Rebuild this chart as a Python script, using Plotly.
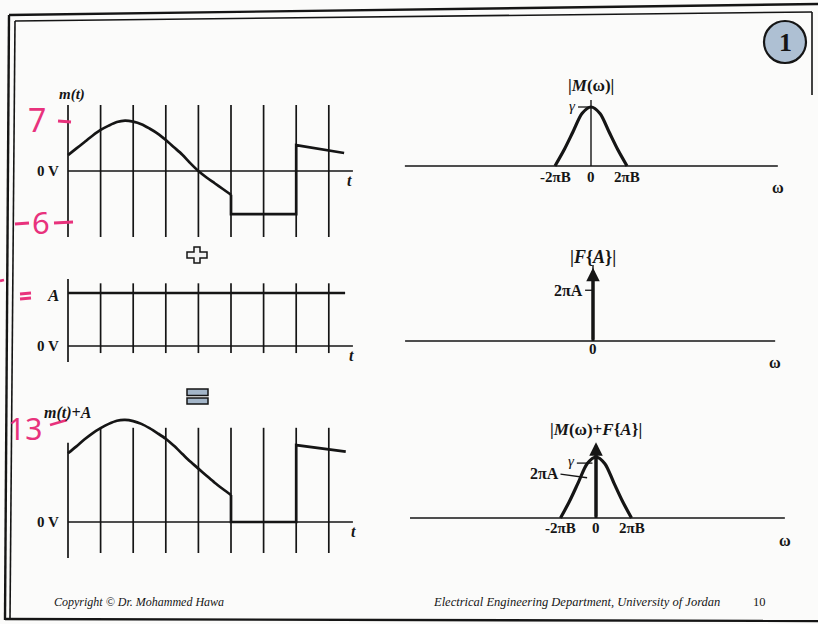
import plotly.graph_objects as go

W, H = 818, 624
INK = "#151515"
PINK = "#e8327c"
SERIF = "Liberation Serif"

# ---------------- data ----------------
# time axis: grid divisions
GRID_T = [0, 1, 2, 3, 4, 5, 6, 7, 8]
T_AXIS_END = 8.74

# message m(t): smooth part up to index M_SMOOTH_END, then straight pieces
M_T = [0, 0.25, 0.5, 0.75, 1.0, 1.25, 1.5, 1.75, 2.0, 2.25, 2.5, 2.75, 3.0, 3.25,
       3.5, 3.75, 4.0, 4.25, 4.5, 4.75, 5.0, 5.0, 7.0, 7.0, 8.47]
M_V = [2.2, 3.1, 4.0, 4.9, 5.7, 6.3, 6.8, 7.0, 6.85, 6.5, 5.9, 5.2, 4.3, 3.3,
       2.3, 1.1, 0.0, -0.9, -1.7, -2.5, -3.3, -6.0, -6.0, 3.6, 2.5]
M_SMOOTH_END = 20

# DC level A
A_LEVEL = 6.0
A_T = [0, 8.5]

# m(t) + A
MA_T = [0, 0.25, 0.5, 0.75, 1.0, 1.25, 1.5, 1.75, 2.0, 2.25, 2.5, 2.75, 3.0, 3.25,
        3.5, 3.75, 4.0, 4.25, 4.5, 4.75, 5.0, 5.0, 7.0, 7.0, 8.52]
MA_V = [8.75, 9.6, 10.5, 11.3, 11.95, 12.5, 12.9, 13.0, 12.85, 12.5, 11.95, 11.3, 10.6, 9.7,
        8.7, 7.7, 6.8, 5.9, 5.0, 4.2, 3.44, 0.0, 0.0, 9.8, 8.96]
MA_SMOOTH_END = 20

# spectrum |M(w)|, w in units of 2*pi*B, magnitude in units of gamma
W_PTS = [-1, -0.75, -0.5, -0.25, 0, 0.25, 0.5, 0.75, 1]
M_MAG = [0, 0.27, 0.58, 0.89, 1.0, 0.89, 0.58, 0.27, 0]
GAMMA = 1.0
IMPULSE_H = 1.24          # drawn height of the impulse at w = 0
TWO_PI_A = 0.86           # level marked 2*pi*A on the impulse

W_TICKS = [-1, 0, 1]
W_TICK_TEXT = ["-2πB", "0", "2πB"]


# ---------------- layout helpers ----------------
def px_x(p):
    return p / W


def px_y(p):
    return 1 - p / H


# panel geometry: domain in pixels, origin pixel and pixels per unit
PANELS = {
    # name: (axis idx, dom x0, dom x1, dom top, dom bottom, origin x px, origin y px, kx, ky)
    "L1": (1, 20, 365, 85, 245, 68, 171, 32.6, 7.2),
    "L2": (2, 20, 365, 270, 372, 68, 346, 32.6, 8.83),
    "L3": (3, 20, 365, 400, 565, 68, 522, 32.6, 7.85),
    "R1": (4, 400, 795, 70, 200, 591, 166, 36.0, 59.0),
    "R2": (5, 400, 795, 245, 375, 593, 341, 36.0, 59.0),
    "R3": (6, 400, 795, 420, 560, 596, 518, 35.5, 61.0),
}

layout_axes = {}
REF = {}
for name, (i, x0, x1, top, bot, ox, oy, kx, ky) in PANELS.items():
    sx = "" if i == 1 else str(i)
    layout_axes["xaxis" + sx] = dict(
        domain=[px_x(x0), px_x(x1)],
        range=[(x0 - ox) / kx, (x1 - ox) / kx],
        visible=False, fixedrange=True, anchor="y" + sx,
    )
    layout_axes["yaxis" + sx] = dict(
        domain=[px_y(bot), px_y(top)],
        range=[(oy - bot) / ky, (oy - top) / ky],
        visible=False, fixedrange=True, anchor="x" + sx,
    )
    REF[name] = ("x" + sx, "y" + sx)

traces = []


def add_line(panel, xs, ys, width=2.4, shape="linear", color=INK):
    xa, ya = REF[panel]
    traces.append(go.Scatter(
        x=xs, y=ys, mode="lines", xaxis=xa, yaxis=ya,
        line=dict(color=color, width=width, shape=shape, smoothing=0.8),
        hoverinfo="skip", showlegend=False, cliponaxis=False,
    ))


annotations = []


def add_text(panel, x, y, text, size=14, xanchor="center", bold=True, italic=False, color=INK):
    xa, ya = REF[panel]
    t = text
    if italic:
        t = "<i>" + t + "</i>"
    if bold:
        t = "<b>" + t + "</b>"
    annotations.append(dict(
        x=x, y=y, xref=xa, yref=ya, text=t, showarrow=False,
        xanchor=xanchor, yanchor="middle",
        font=dict(family=SERIF, size=size, color=color),
    ))


def paper_text(xp, yp, text, size=13, family=SERIF, color=INK, xanchor="center"):
    annotations.append(dict(
        x=px_x(xp), y=px_y(yp), xref="paper", yref="paper", text=text,
        showarrow=False, xanchor=xanchor, yanchor="middle",
        font=dict(family=family, size=size, color=color),
    ))


# ---------------- left column: time signals ----------------
GRID_SPAN = {
    "L1": [(-9.17, 9.17)] * 9,
    "L2": [(-1.8, 7.6)] + [(-0.8, 7.1)] * 8,
    "L3": [(-4.6, 10.1)] + [(-3.95, 12.0)] * 8,
}
for panel, spans in GRID_SPAN.items():
    gx, gy = [], []
    for t, (lo, hi) in zip(GRID_T, spans):
        gx += [t, t, None]
        gy += [lo, hi, None]
    add_line(panel, gx, gy, width=1.7)
    add_line(panel, [GRID_T[0], T_AXIS_END], [0, 0], width=1.7)

# m(t)
add_line("L1", M_T[:M_SMOOTH_END + 1], M_V[:M_SMOOTH_END + 1], width=2.7, shape="spline")
add_line("L1", M_T[M_SMOOTH_END:], M_V[M_SMOOTH_END:], width=2.7)
# A
add_line("L2", A_T, [A_LEVEL, A_LEVEL], width=2.7)
# m(t)+A
add_line("L3", MA_T[:MA_SMOOTH_END + 1], MA_V[:MA_SMOOTH_END + 1], width=2.7, shape="spline")
add_line("L3", MA_T[MA_SMOOTH_END:], MA_V[MA_SMOOTH_END:], width=2.7)

add_text("L1", 0.12, 10.6, "m(t)", size=15, italic=True)
add_text("L1", -0.6, 0, "0 V", size=15)
add_text("L1", 8.65, -1.3, "t", size=16, italic=True)
add_text("L2", -0.46, A_LEVEL - 0.3, "A", size=17, italic=True)
add_text("L2", -0.6, 0, "0 V", size=15)
add_text("L2", 8.7, -1.05, "t", size=16, italic=True)
add_text("L3", 0.0, 13.9, "m(t)+A", size=16, italic=True)
add_text("L3", -0.6, 0, "0 V", size=15)
add_text("L3", 8.75, -1.25, "t", size=16, italic=True)

# ---------------- right column: spectra ----------------
W_AXIS = {"R1": (-5.17, 5.19), "R2": (-5.22, 5.06), "R3": (-5.24, 5.32)}
for panel, (a, b) in W_AXIS.items():
    add_line(panel, [a, b], [0, 0], width=1.7)
    add_text(panel, b, -0.37, "ω", size=16)

# |M(w)|
add_line("R1", [0, 0], [0, 1.12], width=1.4)
add_line("R1", W_PTS, M_MAG, width=3.2, shape="spline")
add_line("R1", [-0.36, 0], [GAMMA, GAMMA], width=1.3)
add_text("R1", -0.36, GAMMA + 0.01, "γ", size=15, xanchor="right", bold=False, italic=True)
add_text("R1", 0, 1.37, "|<i>M</i>(ω)|", size=17)
for v, s in zip(W_TICKS, W_TICK_TEXT):
    add_text("R1", v, -0.19, s, size=15)

# |F{A}|
add_line("R2", [0, 0], [0, 1.29], width=1.4)
add_line("R2", [0, 0], [0, IMPULSE_H * 0.85], width=3.0)
add_line("R2", [-0.22, 0], [TWO_PI_A, TWO_PI_A], width=1.3)
add_text("R2", -0.22, TWO_PI_A, "2πA", size=16, xanchor="right")
add_text("R2", 0, 1.42, "|<i>F</i>{<i>A</i>}|", size=18)
add_text("R2", 0, -0.14, "0", size=15)

# |M(w)+F{A}|
add_line("R3", W_PTS, M_MAG, width=3.2, shape="spline")
add_line("R3", [0, 0], [0, IMPULSE_H * 0.85], width=3.0)
add_line("R3", [-0.54, -0.1], [0.9, 0.9], width=1.3)
add_text("R3", -0.54, 0.94, "γ", size=15, xanchor="right", bold=False, italic=True)
add_line("R3", [-1.0, -0.25], [0.72, 0.66], width=1.3)
add_text("R3", -1.0, 0.73, "2πA", size=16, xanchor="right")
add_text("R3", 0, 1.45, "|<i>M</i>(ω)+<i>F</i>{<i>A</i>}|", size=17)
for v, s in zip(W_TICKS, W_TICK_TEXT):
    add_text("R3", v, -0.17, s, size=15)

# impulse arrowheads
for panel in ("R2", "R3"):
    xa, ya = REF[panel]
    annotations.append(dict(
        x=0, y=IMPULSE_H, xref=xa, yref=ya, ax=0, ay=0, axref=xa, ayref=ya,
        text="", showarrow=True, arrowhead=2, arrowsize=0.9, arrowwidth=3,
        arrowcolor=INK, standoff=0,
    ))

# ---------------- slide decorations ----------------
shapes = []


def seg(x0, y0, x1, y1, width=2.0, color=INK):
    shapes.append(dict(type="line", xref="paper", yref="paper",
                       x0=px_x(x0), y0=px_y(y0), x1=px_x(x1), y1=px_y(y1),
                       line=dict(color=color, width=width)))


def poly(points, fill, width=1.5):
    d = "M " + " L ".join(f"{px_x(x):.5f},{px_y(y):.5f}" for x, y in points) + " Z"
    shapes.append(dict(type="path", xref="paper", yref="paper", path=d,
                       fillcolor=fill, line=dict(color=INK, width=width)))


# frame
seg(9, 15, 818, 4, 2.4)
seg(15, 21, 812, 12, 1.6)
seg(9, 15, 5, 620, 2.4)
seg(15, 21, 10, 618, 1.6)
seg(5, 619, 818, 621, 2.4)
seg(812, 12, 812, 95, 1.6)

# plus sign between the first two signals
cx, cy = 197, 255
poly([(cx - 3, cy - 8), (cx + 3, cy - 8), (cx + 3, cy - 3), (cx + 10, cy - 3),
      (cx + 10, cy + 3), (cx + 3, cy + 3), (cx + 3, cy + 8), (cx - 3, cy + 8),
      (cx - 3, cy + 3), (cx - 10, cy + 3), (cx - 10, cy - 3), (cx - 3, cy - 3)],
     "#f2f2f2")
# equals sign
poly([(187, 389), (208, 389), (208, 395.5), (187, 395.5)], "#a3b5c8")
poly([(187, 398), (208, 398), (208, 404), (187, 404)], "#a3b5c8")

# page badge
shapes.append(dict(type="circle", xref="paper", yref="paper",
                   x0=px_x(764), x1=px_x(806), y0=px_y(63), y1=px_y(21),
                   fillcolor="#aec0d3", line=dict(color=INK, width=2.2)))
paper_text(785, 43, "<b>1</b>", size=26)

# handwritten notes
paper_text(37, 120, "7", size=32, family="Noto Sans", color=PINK)
seg(58, 121, 71, 122, 2.8, PINK)
seg(15, 224, 29, 223, 2.8, PINK)
paper_text(41, 222, "6", size=31, family="Noto Sans", color=PINK)
seg(54, 223, 73, 222, 2.8, PINK)
seg(20, 294, 31, 293, 2.8, PINK)
seg(20, 299, 31, 298, 2.8, PINK)
seg(0, 281, 4, 280, 2.8, PINK)
paper_text(25, 428, "13", size=30, family="Noto Sans", color=PINK)
seg(50, 425, 67, 420, 2.8, PINK)

# footer
paper_text(139, 602, "<i>Copyright © Dr. Mohammed Hawa</i>", size=12)
paper_text(576, 602, "<i>Electrical Engineering Department, University of Jordan</i>", size=12.5)
paper_text(759, 602, "10", size=12.5)

fig = go.Figure(data=traces)
fig.update_layout(
    width=W, height=H,
    margin=dict(l=0, r=0, t=0, b=0),
    paper_bgcolor="#fbfbfa",
    plot_bgcolor="rgba(0,0,0,0)",
    showlegend=False,
    annotations=annotations,
    shapes=shapes,
    **layout_axes,
)
fig.write_html("out.html")
